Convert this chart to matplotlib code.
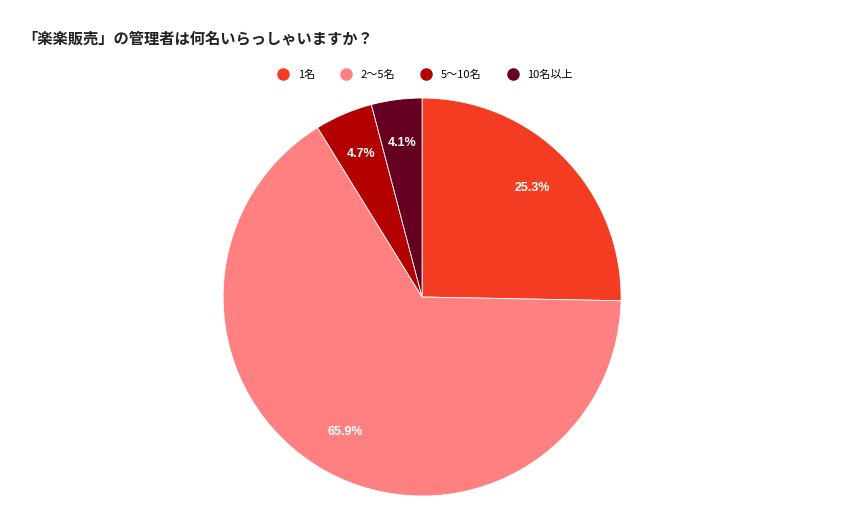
import matplotlib
matplotlib.use("Agg")
import matplotlib.pyplot as plt
from matplotlib.lines import Line2D

plt.rcParams['font.family'] = ['Noto Sans CJK JP', 'DejaVu Sans']

categories = ["1名", "2〜5名", "5〜10名", "10名以上"]
values = [25.3, 65.9, 4.7, 4.1]
colors = ["#f43c22", "#ff8080", "#b30000", "#650020"]

fig = plt.figure(figsize=(8.45, 5.23), dpi=100)
ax = fig.add_axes([0.264, 0.0516, 0.471, 0.761])
wedges, texts, autotexts = ax.pie(values, colors=colors, startangle=90, counterclock=False,
                                  autopct="%.1f%%", pctdistance=0.78,
                                  wedgeprops=dict(linewidth=0.6, edgecolor="white"),
                                  textprops=dict(color="white", fontsize=9, fontweight="bold",
                                                 family=["Liberation Sans", "DejaVu Sans"]))
ax.set_xlim(-1, 1)
ax.set_ylim(-1, 1)
ax.set_aspect("equal")

fig.text(22/845, 1-38/523, "「楽楽販売」の管理者は何名いらっしゃいますか？", fontsize=11,
         fontweight="bold", color="#222222", va="center", ha="left")

handles = [Line2D([], [], marker="o", linestyle="", markersize=8, markerfacecolor=c,
                  markeredgecolor=c) for c in colors]
fig.legend(handles, categories, loc="center", bbox_to_anchor=(0.5, 1-75/523), ncol=4,
           frameon=False, fontsize=8, handletextpad=0.3, columnspacing=1.8)

fig.savefig("out.png", dpi=100, facecolor="white")
